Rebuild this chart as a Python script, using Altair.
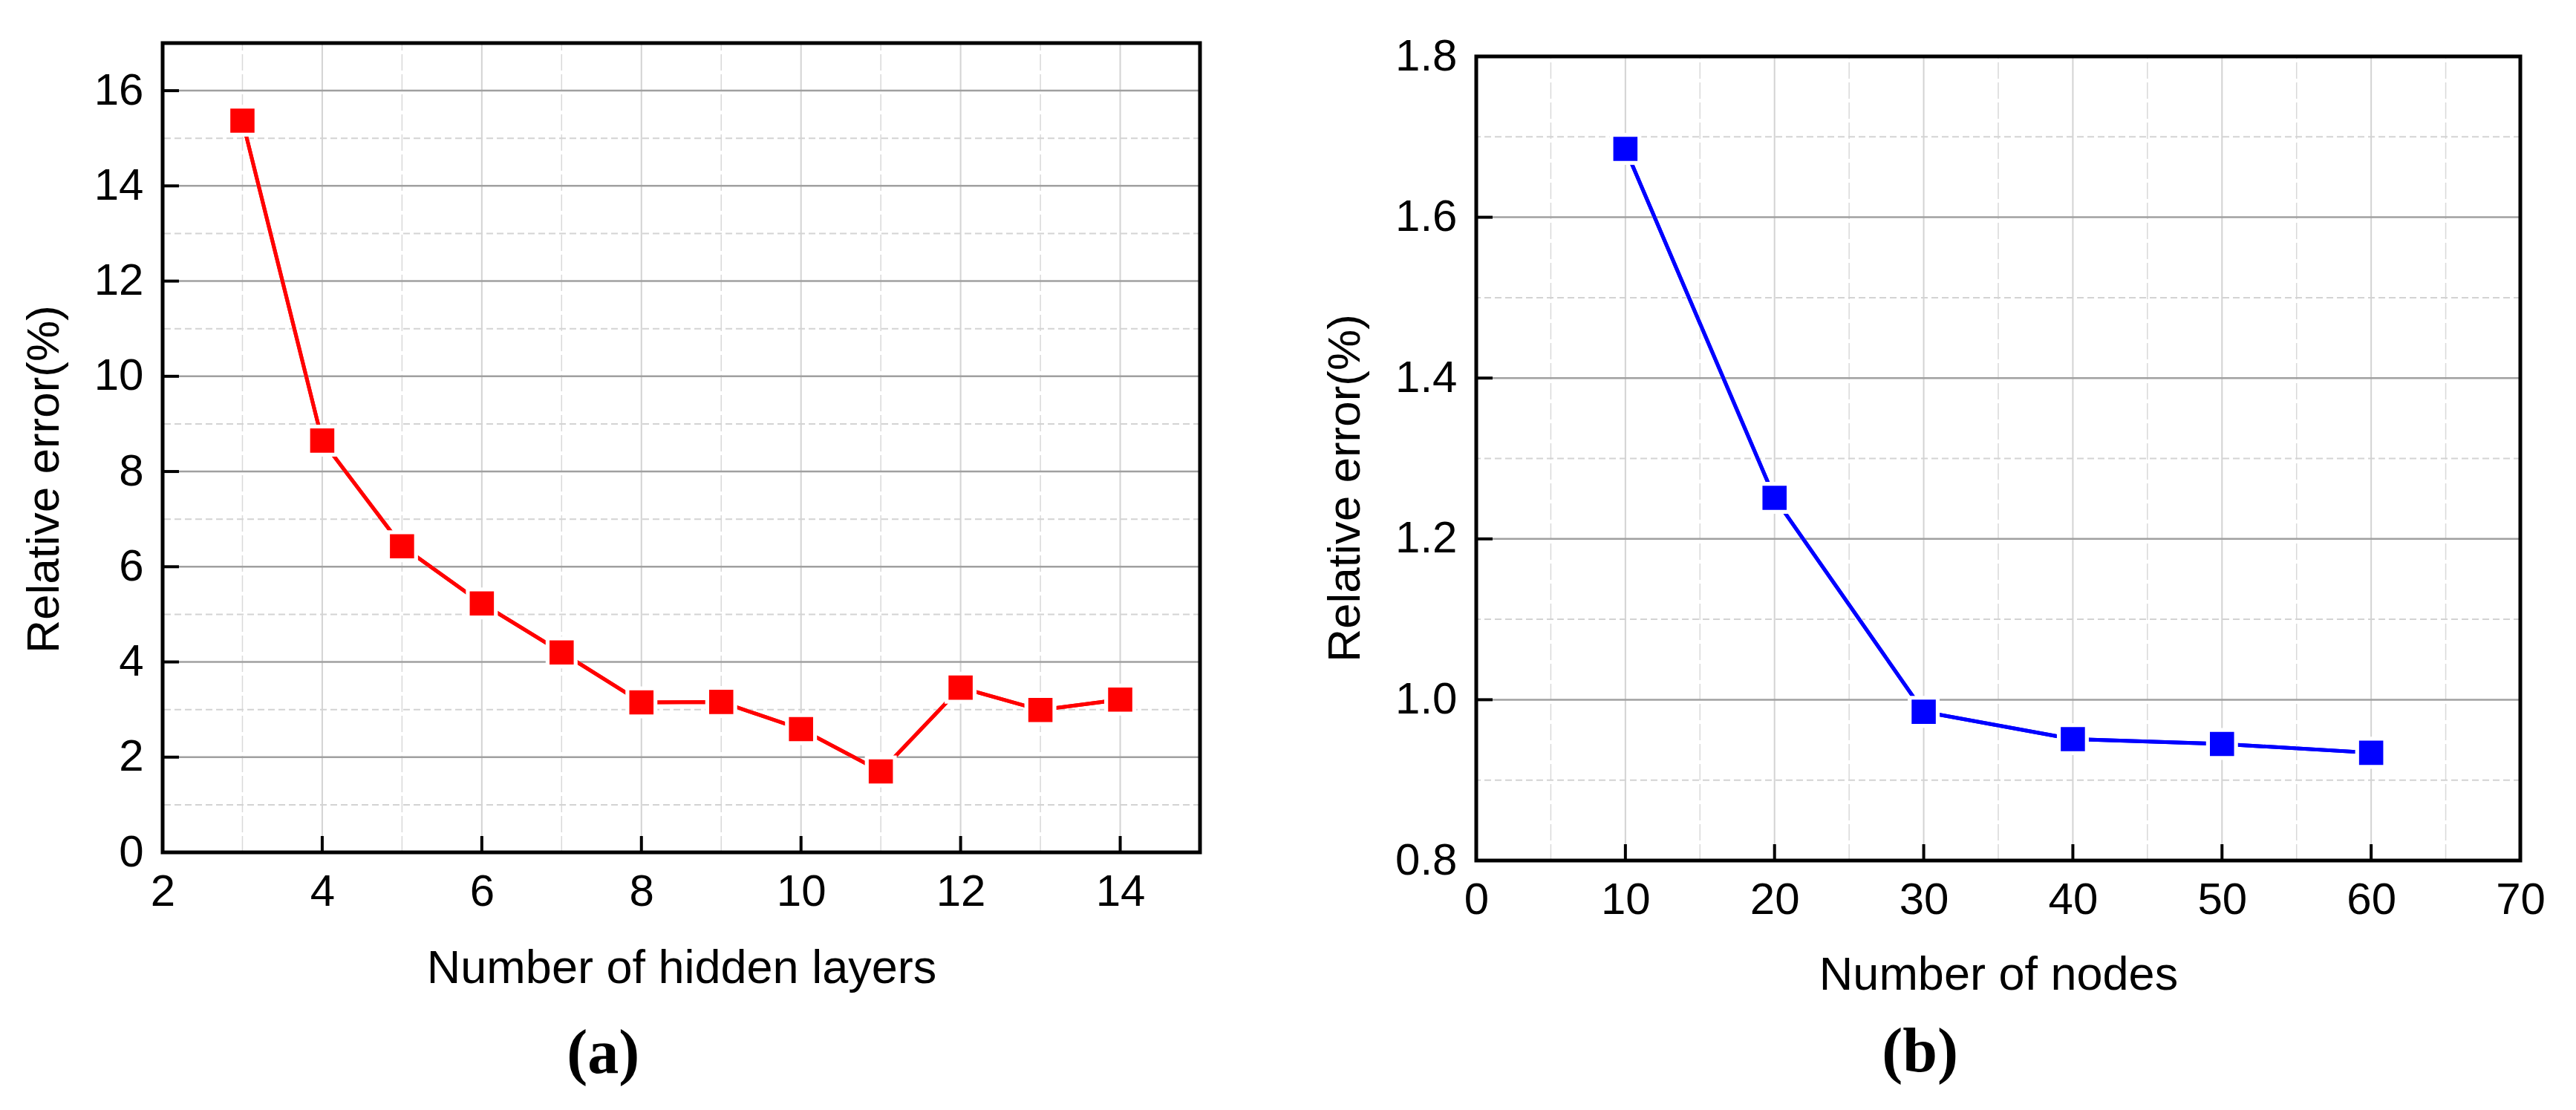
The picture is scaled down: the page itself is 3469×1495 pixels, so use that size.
import altair as alt
import pandas as pd

# ---------------- data ----------------
# panel (a)
layers_x = [3, 4, 5, 6, 7, 8, 9, 10, 11, 12, 13, 14]
layers_err = [15.37, 8.65, 6.43, 5.23, 4.20, 3.15, 3.16, 2.59, 1.70, 3.46, 2.99, 3.21]
a_x_domain = [2, 15]
a_y_domain = [0, 17]
a_x_major = [2, 4, 6, 8, 10, 12, 14]
a_x_minor = [3, 5, 7, 9, 11, 13]
a_y_major = [0, 2, 4, 6, 8, 10, 12, 14, 16]
a_y_minor = [1, 3, 5, 7, 9, 11, 13, 15]

# panel (b)
nodes_x = [10, 20, 30, 40, 50, 60]
nodes_err = [1.685, 1.251, 0.985, 0.951, 0.945, 0.934]
b_x_domain = [0, 70]
b_y_domain = [0.8, 1.8]
b_x_major = [0, 10, 20, 30, 40, 50, 60, 70]
b_x_minor = [5, 15, 25, 35, 45, 55, 65]
b_y_major = [0.8, 1.0, 1.2, 1.4, 1.6, 1.8]
b_y_minor = [0.9, 1.1, 1.3, 1.5, 1.7]

SANS = "Liberation Sans"
SERIF = "Liberation Serif"
Y_TITLE = "Relative error(%)"


def panel(xs, ys, color, xdom, ydom, xmaj, xmin, ymaj, ymin, xtitle, w, h, top,
          xfmt, yfmt, ytx, yty, xty, caption, cdx, coff):
    xsc = alt.Scale(domain=xdom, nice=False, zero=False)
    ysc = alt.Scale(domain=ydom, nice=False, zero=False, range=[h, top])
    df = pd.DataFrame({"x": xs, "y": ys})

    xaxis = alt.Axis(values=xmaj, format=xfmt, grid=False, ticks=False, tickSize=0,
                     domain=False, labelFont=SANS, labelFontSize=60, labelColor="black",
                     labelPadding=24, labelFlush=False, labelOverlap=False,
                     titleFont=SANS, titleFontSize=63, titleFontWeight="normal",
                     titleColor="black", titleY=xty, titleX=w / 2, titleAlign="center",
                     titleBaseline="alphabetic")
    yaxis = alt.Axis(values=ymaj, format=yfmt, grid=False, ticks=False, tickSize=0,
                     domain=False, labelFont=SANS, labelFontSize=60, labelColor="black",
                     labelPadding=26, labelFlush=False, labelOverlap=False,
                     titleFont=SANS, titleFontSize=62, titleFontWeight="normal",
                     titleColor="black", titleAngle=270, titleX=ytx, titleY=yty,
                     titleAlign="center", titleBaseline="alphabetic")

    def X(f):
        return alt.X(f, scale=xsc, axis=xaxis, title=xtitle)

    def Y(f):
        return alt.Y(f, scale=ysc, axis=yaxis, title=Y_TITLE)

    def hrules(vals, **kw):
        return alt.Chart(pd.DataFrame({"v": vals})).mark_rule(**kw).encode(y=Y("v:Q"))

    def vrules(vals, **kw):
        d = pd.DataFrame({"v": vals, "y0": [ydom[0]] * len(vals), "y1": [ydom[1]] * len(vals)})
        return alt.Chart(d).mark_rule(**kw).encode(x=X("v:Q"), y=Y("y0:Q"), y2="y1:Q")

    grid_vmin = vrules(xmin, color="#d9d9d9", strokeWidth=1.5, strokeDash=[22, 5])
    grid_vmaj = vrules(xmaj, color="#d3d3d3", strokeWidth=2)
    grid_hmin = hrules(ymin, color="#d3d3d3", strokeWidth=2, strokeDash=[9, 5])
    grid_hmaj = hrules(ymaj, color="#a0a0a0", strokeWidth=2.5)

    line = alt.Chart(df).mark_line(color=color, strokeWidth=5).encode(x=X("x:Q"), y=Y("y:Q"))
    halo = alt.Chart(df).mark_square(size=1850, color="white", opacity=1).encode(
        x=X("x:Q"), y=Y("y:Q"))
    pts = alt.Chart(df).mark_square(size=1060, color=color, opacity=1).encode(
        x=X("x:Q"), y=Y("y:Q"))

    frame_df = pd.DataFrame({"x0": [xdom[0]], "x1": [xdom[1]], "y0": [ydom[0]], "y1": [ydom[1]]})
    frame = alt.Chart(frame_df).mark_rect(fillOpacity=0, stroke="black", strokeWidth=5).encode(
        x=X("x0:Q"), x2="x1:Q", y=Y("y0:Q"), y2="y1:Q")

    yticks = alt.Chart(pd.DataFrame({"v": ymaj})).mark_rule(color="black", strokeWidth=4).encode(
        y=Y("v:Q"), x=alt.value(0), x2=alt.value(22))
    xticks = alt.Chart(pd.DataFrame({"v": xmaj})).mark_rule(color="black", strokeWidth=4).encode(
        x=X("v:Q"), y=alt.value(h), y2=alt.value(h - 22))

    return alt.layer(line, grid_vmin, grid_vmaj, grid_hmin, grid_hmaj, line, halo, pts,
                     yticks, xticks, frame).properties(
        width=w, height=h,
        title=alt.TitleParams(caption, orient="bottom", anchor="middle", frame="bounds",
                              font=SERIF, fontSize=84, fontWeight="bold", color="black",
                              offset=coff, dx=cdx))


left = panel(layers_x, layers_err, "#ff0000", a_x_domain, a_y_domain, a_x_major, a_x_minor,
             a_y_major, a_y_minor, "Number of hidden layers", 1397, 1090, 0,
             "d", "d", -141, 587, 175, "(a)", -11, 43)
right = panel(nodes_x, nodes_err, "#0000ff", b_x_domain, b_y_domain, b_x_major, b_x_minor,
              b_y_major, b_y_minor, "Number of nodes", 1406, 1101, 18,
              "d", ".1f", -158, 599, 173, "(b)", -18, 32)

chart = alt.hconcat(left, right, spacing=160).properties(
    padding={"left": 19, "top": 37, "right": 5, "bottom": 5},
    background="white",
).configure_view(stroke="transparent")

chart.save("out.html", embed_options={"renderer": "svg", "actions": False})
